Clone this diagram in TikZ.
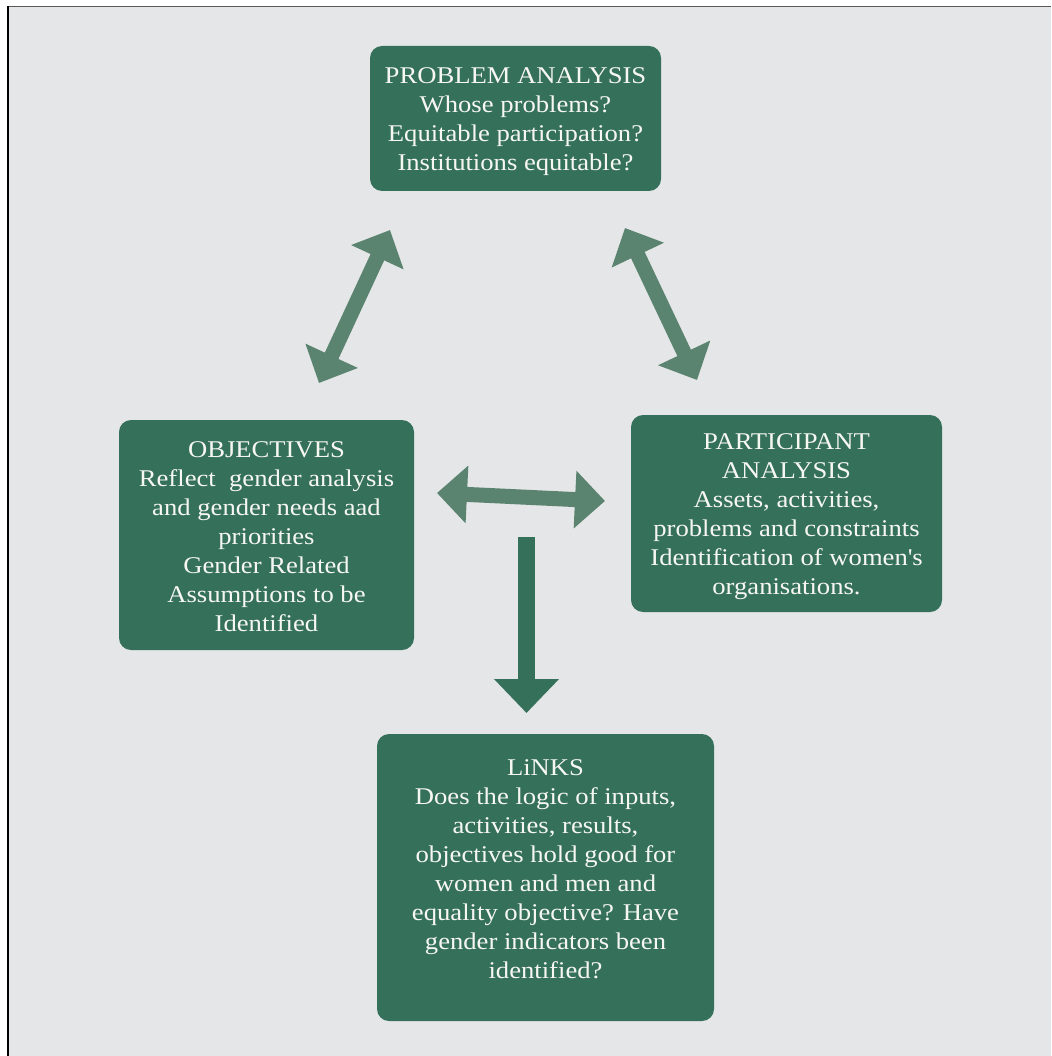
\documentclass[tikz,border=0pt]{standalone}
\usepackage{fontspec}
\setmainfont[FakeStretch=1.11]{Liberation Serif}
\usetikzlibrary{arrows.meta}
\definecolor{bg}{HTML}{E5E6E8}
\definecolor{boxgreen}{HTML}{34705A}
\definecolor{arrowgreen}{HTML}{5B8470}
\definecolor{txtc}{HTML}{F7F7F2}
\tikzset{
  box/.style={draw=none, fill=boxgreen, rounded corners=12pt, inner sep=0pt},
  txt/.style={inner sep=0pt, text=txtc, align=center, font=\fontsize{24}{29}\selectfont},
  blockarrow/.style={draw=arrowgreen, line width=15pt,
    {Triangle[length=30pt,width=56pt]}-{Triangle[length=30pt,width=56pt]}},
  downarrow/.style={draw=boxgreen, line width=17pt,
    -{Triangle[length=34pt,width=63pt]}}
}
\begin{document}
\begin{tikzpicture}[x=1pt,y=-1pt]
\useasboundingbox (0,0) rectangle (1051,1056);
\fill[white] (0,0) rectangle (1051,1056);
\fill[bg] (8,7) rectangle (1051,1056);
\draw[gray!70!black, line width=1.5pt] (7.5,6.5) -- (1051,6.5);
\draw[black, line width=2pt] (7.5,6.5) -- (7.5,1056);

\node[box, minimum width=291pt, minimum height=145pt] (prob) at (515.5,118.5) {};
\node[txt] (probtext) at ([yshift=-3pt]prob.center)
  {PROBLEM ANALYSIS\\Whose problems?\\Equitable participation?\\Institutions equitable?};
\node[box, minimum width=295pt, minimum height=230pt] (obj) at (266.5,535) {};
\node[txt] (objtext) at ([yshift=-2pt]obj.center)
  {OBJECTIVES\\Reflect \ gender analysis\\and gender needs aad\\priorities\\Gender Related\\Assumptions to be\\Identified};
\node[box, minimum width=311pt, minimum height=197pt] (part) at (786.5,513.5) {};
\node[txt] (parttext) at ([yshift=-3pt]part.center)
  {PARTICIPANT\\ANALYSIS\\Assets, activities,\\problems and constraints\\Identification of women\textquotesingle s\\organisations.};
\node[box, minimum width=337pt, minimum height=287pt] (links) at (545.5,877.5) {};
\node[txt] (linkstext) at ([yshift=8pt]links.center)
  {LiNKS\\Does the logic of inputs,\\activities, results,\\objectives hold good for\\women and men and\\equality objective? Have\\gender indicators been\\identified?};

\coordinate (a1) at (319,383);
\coordinate (a2) at (390,230);
\coordinate (b1) at (625,228);
\coordinate (b2) at (697,380);
\coordinate (c1) at (437,493);
\coordinate (c2) at (605,501);
\coordinate (d1) at (526.5,537);
\coordinate (d2) at (526.5,713);

\draw[blockarrow] (a1) -- (a2);
\draw[blockarrow] (b1) -- (b2);
\draw[blockarrow] (c1) -- (c2);
\draw[downarrow] (d1) -- (d2);
\end{tikzpicture}
\end{document}
